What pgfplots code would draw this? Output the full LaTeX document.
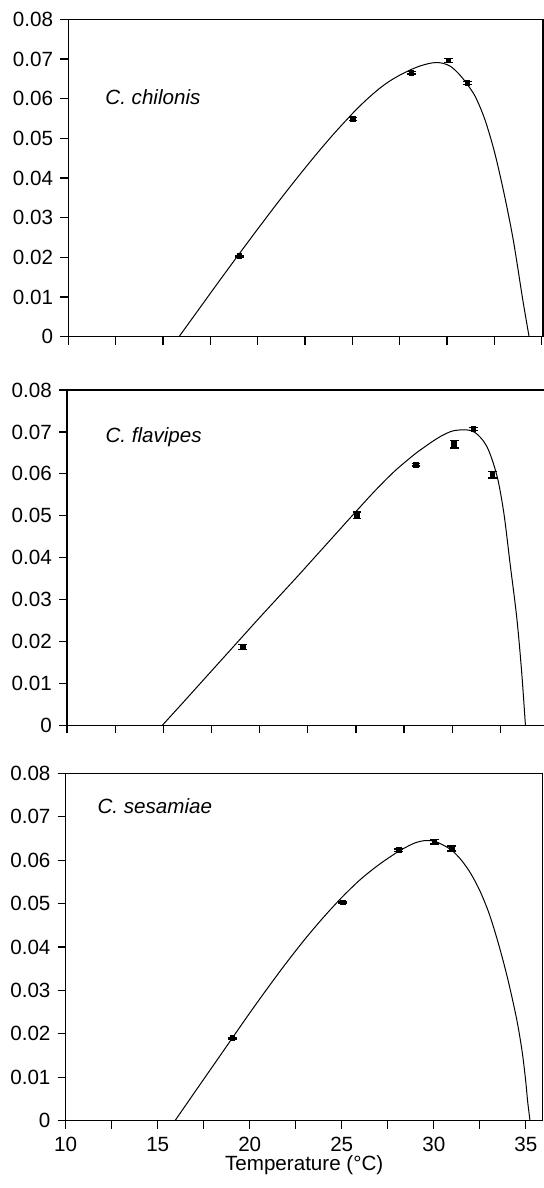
\documentclass[border=0pt]{standalone}
\usepackage{fontspec}
\setmainfont{Liberation Sans}
\usepackage{pgfplots}
\pgfplotsset{compat=1.18}
\pgfplotsset{
  panel/.style={
    scale only axis,
    anchor=south west,
    ymin=0, ymax=0.08,
    ytick={0,0.01,0.02,0.03,0.04,0.05,0.06,0.07,0.08},
    yticklabels={0,0.01,0.02,0.03,0.04,0.05,0.06,0.07,0.08},
    xtick={10,12.5,15,17.5,20,22.5,25,27.5,30,32.5,35},
    tick align=outside,
    xtick pos=bottom, ytick pos=left,
    major tick length=4pt,
    axis line style={line width=0.6pt},
    every tick/.style={black, line width=0.6pt},
    enlargelimits=false,
    scaled ticks=false,
    xticklabel style={inner sep=0pt, yshift=-4.1pt},
  },
  curve/.style={black, line width=0.5pt, smooth, no marks},
  pts/.style={black, only marks, mark=square*, mark size=1.15pt,
    error bars/.cd, y dir=both, y explicit,
    error bar style={line width=0.7pt, black},
    error mark options={rotate=90, black, line width=0.7pt, mark size=2.2pt}},
}
\begin{document}
\fontsize{10.3pt}{12pt}\selectfont
\begin{tikzpicture}
\path[use as bounding box] (0pt,0pt) rectangle (272pt,594pt);
% Panel 1
\begin{axis}[panel, at={(34.15pt,425.65pt)}, width=237.3pt, height=158.7pt,
  xmin=10, xmax=35.07, xticklabels={}]
\addplot[curve] coordinates {(15.85,0) (17,0.0076) (18,0.0142) (19,0.0207) (20,0.0271) (21,0.0334) (22,0.0395) (23,0.0454) (24,0.0510) (25,0.0562) (25.5,0.0586) (26,0.0608) (26.5,0.0628) (27,0.0645) (27.5,0.0659) (28,0.0671) (28.5,0.0681) (29,0.0688) (29.4,0.0691) (29.8,0.0689) (30.2,0.0681) (30.6,0.0664) (31,0.0641) (31.5,0.0605) (32,0.0548) (32.5,0.0468) (33,0.0365) (33.5,0.0245) (34,0.0095) (34.34,0)};
\addplot[pts] coordinates {
 (19.04,0.0203) +- (0,0.0002)
 (25.04,0.0549) +- (0,0.0004)
 (28.12,0.0665) +- (0,0.0003)
 (30.08,0.0696) +- (0,0.0005)
 (31.09,0.0639) +- (0,0.0004)};
\node[anchor=base west, inner sep=0pt, font=\itshape] at (axis cs:11.94,0.0584) {C. chilonis};
\end{axis}
% Panel 2
\begin{axis}[panel, at={(33.5pt,231.35pt)}, width=250.4pt, height=167.65pt,
  xmin=10, xmax=36, xticklabels={}]
\addplot[curve] coordinates {(14.95,0) (16,0.0053) (17,0.0104) (18,0.0155) (19,0.0206) (20,0.0257) (21,0.0307) (22,0.0357) (23,0.0408) (24,0.0459) (25,0.0510) (26,0.0560) (27,0.0606) (28,0.0645) (28.5,0.0662) (29,0.0678) (29.5,0.0692) (30,0.0702) (30.5,0.0705) (30.9,0.0704) (31.2,0.0698) (31.5,0.0685) (31.8,0.0665) (32.1,0.0630) (32.4,0.0580) (32.7,0.0500) (33.0,0.0387) (33.35,0.0257) (33.6,0.0130) (33.8,0)};
\addplot[pts] coordinates {
 (19.13,0.01865) +- (0,0.0006)
 (25.06,0.0501) +- (0,0.0008)
 (28.12,0.0622) +- (0,0.0003)
 (30.10,0.0671) +- (0,0.0009)
 (31.09,0.0707) +- (0,0.0004)
 (32.08,0.0598) +- (0,0.0008)};
\node[anchor=base west, inner sep=0pt, font=\itshape] at (axis cs:11.98,0.0675) {C. flavipes};
\end{axis}
% Panel 3
\begin{axis}[panel, at={(32.85pt,33.65pt)}, width=238.5pt, height=173.7pt,
  xmin=10, xmax=35.92, xticklabels={10,,15,,20,,25,,30,,35},
  xlabel={Temperature (°C)},
  xlabel style={at={(axis description cs:0.5,0)}, anchor=base, inner sep=0pt, yshift=-25pt}]
\addplot[curve] coordinates {(15.94,0) (17,0.0065) (18,0.0126) (19,0.0187) (20,0.0248) (21,0.0307) (22,0.0364) (23,0.0418) (24,0.0468) (25,0.0514) (26,0.0555) (27,0.0589) (28,0.0618) (28.5,0.0630) (29,0.0640) (29.5,0.0645) (30,0.0644) (30.5,0.0635) (31,0.0622) (31.5,0.0600) (32,0.0570) (32.5,0.0530) (33,0.0478) (33.5,0.0410) (34,0.0330) (34.5,0.0235) (34.8,0.0160) (35,0.0090) (35.1,0.0045) (35.23,0)};
\addplot[pts] coordinates {
 (19.05,0.0190) +- (0,0.0002)
 (25.06,0.0503) +- (0,0.0002)
 (28.09,0.0623) +- (0,0.0003)
 (30.04,0.0642) +- (0,0.0005)
 (30.98,0.0627) +- (0,0.0006)};
\node[anchor=base west, inner sep=0pt, font=\itshape] at (axis cs:11.71,0.0708) {C. sesamiae};
\end{axis}
\end{tikzpicture}
\end{document}
